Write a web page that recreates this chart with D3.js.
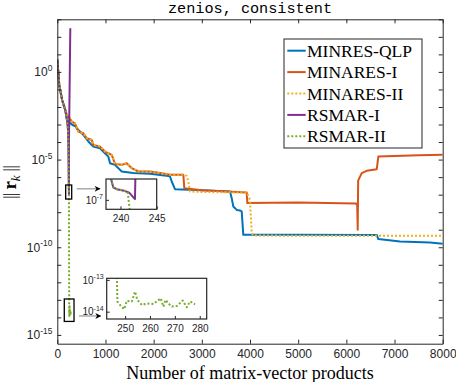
<!DOCTYPE html>
<html><head><meta charset="utf-8">
<script src="https://cdn.jsdelivr.net/npm/d3@7"></script>
<style>body{margin:0;background:#fff} svg{display:block}</style>
</head><body>
<svg id="chart" width="456" height="382"></svg>
<script>
// ---------------- data (x = matrix-vector products, y = log10 ||r_k||) ----------------
const titleText = "zenios, consistent";
const xLabelText = "Number of matrix-vector products";
const xTicks = [0,1000,2000,3000,4000,5000,6000,7000,8000];
const yTickExps = [-15,-14,-13,-12,-11,-10,-9,-8,-7,-6,-5,-4,-3,-2,-1,0,1,2,3];
const yLabelExps = [0,-5,-10,-15];
const seriesNames = ["MINRES-QLP","MINARES-I","MINARES-II","RSMAR-I","RSMAR-II"];
const seriesColors = ["#0072BD","#D95319","#EDB120","#7E2F8E","#77AC30"];
const seriesDotted = [false,false,true,false,true];

const qlpIter = [0,40,100,165,200,300,374,402,540,644,747,886,990,1059,1094,1198,1337,1578,1924,2305,2340,2375,2443,3000,3585,3620,3654,3724,3793,3828,3861,5000,6631,6664,7114,7737,8000];
const qlpLog  = [0.72,-0.74,-1.6,-2.17,-2.74,-3.0,-3.1,-3.21,-3.59,-3.97,-4.26,-4.35,-4.64,-4.83,-5.21,-5.30,-5.68,-5.77,-5.81,-5.93,-5.97,-6.25,-6.69,-6.75,-6.82,-7.2,-7.68,-7.87,-7.9,-7.96,-9.29,-9.29,-9.3,-9.53,-9.67,-9.73,-9.80];

const mar1Iter = [0,40,100,165,200,250,299,367,436,540,610,714,747,886,990,1059,1129,1198,1337,1441,1545,1682,1924,2132,2340,2616,2637,3000,3932,3945,5000,6200,6225,6236,6245,6319,6423,6631,6664,7500,8000];
const mar1Log  = [0.72,-0.74,-1.6,-2.17,-2.45,-2.62,-2.83,-2.93,-3.40,-3.50,-3.78,-3.88,-4.16,-4.26,-4.54,-4.64,-4.73,-5.25,-5.30,-5.21,-5.49,-5.68,-5.68,-5.77,-5.87,-5.87,-6.63,-6.75,-6.88,-7.48,-7.45,-7.5,-7.6,-9.0,-6.2,-5.77,-5.64,-5.55,-4.83,-4.76,-4.73];

const mar2Iter = [0,40,100,165,200,250,299,367,436,540,610,714,747,886,990,1059,1129,1198,1337,1441,1545,1682,1924,2132,2340,2616,2686,2720,2755,3000,3932,4000,4036,4069,5000,8000];
const mar2Log  = [0.72,-0.74,-1.6,-2.17,-2.45,-2.62,-2.83,-2.93,-3.40,-3.50,-3.78,-3.88,-4.16,-4.26,-4.54,-4.64,-4.73,-5.25,-5.30,-5.21,-5.49,-5.68,-5.68,-5.77,-5.87,-5.87,-5.93,-6.25,-6.82,-6.85,-6.88,-7.3,-9.19,-9.32,-9.35,-9.35];

const rs1Iter = [0,40,100,165,200,222,230,236,238.7,239,239.5,240.5,241.2,242.0,242.3,270];
const rs1Log  = [0.72,-0.74,-1.6,-2.17,-2.74,-3.3,-4.5,-6.0,-6.45,-6.67,-6.72,-6.76,-6.81,-6.98,-4.0,2.49];

const rs2Iter = [0,40,100,165,200,222,230,236,238.7,239,239.5,240.5,241.0,241.3,246.7,246.9,248.3,249.6,250.7,252.7,254.0,254.9,256.7,258.7,261.4,264.3,265.4,266.3,267.4,268.8,270.8,273.2,274.8,276.1,278.1];
const rs2Log  = [0.72,-0.74,-1.6,-2.17,-2.74,-3.3,-4.5,-6.0,-6.45,-6.67,-6.72,-6.76,-6.8,-7.3,-12.98,-13.68,-13.82,-13.92,-13.66,-13.68,-13.37,-13.63,-13.79,-13.74,-13.76,-13.58,-13.84,-13.63,-13.74,-13.84,-13.82,-13.65,-13.86,-13.68,-13.77];

// inset windows (data units)
const inset1XDomain = [238,245];
const inset1YExpDomain = [-7.25,-6.45];
const inset1XTicks = [240,245];
const inset1YTickExps = [-7];
const inset2XDomain = [242.6,282.8];
const inset2YExpDomain = [-14.23,-12.95];
const inset2XTicks = [250,260,270,280];
const inset2YTickExps = [-13,-14];
// marker boxes on main plot (iteration span)
const box1IterSpan = [174,299];
const box2IterSpan = [145,347];
const arrow1Exp = -6.67;
const arrow2Exp = -13.92;

// ---------------- drawing ----------------
const iters = [qlpIter,mar1Iter,mar2Iter,rs1Iter,rs2Iter];
const logs = [qlpLog,mar1Log,mar2Log,rs1Log,rs2Log];
const series = seriesNames.map((n,i)=>({name:n,color:seriesColors[i],dotted:seriesDotted[i],
  pts: iters[i].map((x,j)=>({x:x,y:Math.pow(10,logs[i][j])}))}));

const svg = d3.select("#chart");
const P = {l:57.3, r:442.7, t:19.3, b:343.7};
const axisCol = "#262626";
const x = d3.scaleLinear().domain([0,8000]).range([P.l,P.r]);
const y = d3.scaleLog().domain([Math.pow(10,-15.5),1e3]).range([P.b,P.t]);

svg.append("rect").attr("x",0).attr("y",0).attr("width",456).attr("height",382).attr("fill","#fff");

const defs = svg.append("defs");
defs.append("clipPath").attr("id","mainclip").append("rect")
  .attr("x",P.l).attr("y",P.t).attr("width",P.r-P.l).attr("height",P.b-P.t);

function drawSeries(g, sx, sy, sw){
  const line = d3.line().x(d=>sx(d.x)).y(d=>sy(d.y));
  series.forEach(s=>{
    g.append("path").attr("d",line(s.pts)).attr("fill","none")
      .attr("stroke",s.color).attr("stroke-width",sw)
      .attr("stroke-dasharray",s.dotted?"2,2":null)
      .attr("stroke-linejoin","round");
  });
}

const gLines = svg.append("g").attr("clip-path","url(#mainclip)");
drawSeries(gLines, x, y, 2);

// axes
const fsTick = 12;
const xb = d3.axisBottom(x).tickValues(xTicks).tickSizeInner(-4).tickSizeOuter(0).tickPadding(6).tickFormat(d3.format("d"));
const gxb = svg.append("g").attr("transform",`translate(0,${P.b})`).call(xb);
const xt = d3.axisTop(x).tickValues(xTicks).tickSizeInner(-4).tickSizeOuter(0).tickFormat("");
const gxt = svg.append("g").attr("transform",`translate(0,${P.t})`).call(xt);
const yTickVals = yTickExps.map(e=>Math.pow(10,e));
const yl = d3.axisLeft(y).tickValues(yTickVals).tickSizeInner(-4).tickSizeOuter(0).tickFormat("");
const gyl = svg.append("g").attr("transform",`translate(${P.l},0)`).call(yl);
const yr = d3.axisRight(y).tickValues(yTickVals).tickSizeInner(-4).tickSizeOuter(0).tickFormat("");
const gyr = svg.append("g").attr("transform",`translate(${P.r},0)`).call(yr);
[gxb,gxt,gyl,gyr].forEach(g=>{
  g.selectAll("path.domain").attr("stroke",axisCol).attr("stroke-width",1);
  g.selectAll(".tick line").attr("stroke",axisCol).attr("stroke-width",1);
  g.selectAll("text").attr("fill",axisCol).attr("font-family","'Liberation Sans',Arial,sans-serif").attr("font-size",fsTick);
});

function powLabel(g, px, py, exp, fs, anchor){
  const t = g.append("text").attr("x",px).attr("y",py).attr("text-anchor",anchor||"end")
    .attr("font-family","'Liberation Sans',Arial,sans-serif").attr("font-size",fs).attr("fill",axisCol);
  t.append("tspan").text("10");
  t.append("tspan").attr("dy",-fs*0.45).attr("font-size",fs*0.7).text(String(exp));
  return t;
}
const gYLab = svg.append("g");
yLabelExps.forEach(e=>powLabel(gYLab, P.l-5, y(Math.pow(10,e))+fsTick*0.38, e, fsTick));

// title
svg.append("text").attr("x",(P.l+P.r)/2).attr("y",12.5).attr("text-anchor","middle")
  .attr("font-family","'Liberation Mono','DejaVu Sans Mono',monospace").attr("font-size",15.2)
  .attr("fill","#000").text(titleText);

// x label
svg.append("text").attr("x",(P.l+P.r)/2).attr("y",378.5).attr("text-anchor","middle")
  .attr("font-family","'Liberation Serif','Times New Roman',serif").attr("font-size",18)
  .attr("fill","#000").text(xLabelText);

// y label ||r_k||
const yLab = svg.append("text").attr("transform",`translate(16,182.5) rotate(-90)`)
  .attr("text-anchor","middle").attr("font-family","'Liberation Serif','Times New Roman',serif")
  .attr("font-size",19).attr("fill","#000");
yLab.append("tspan").attr("letter-spacing","-1").text("|| ");
yLab.append("tspan").attr("font-weight","bold").text("r");
yLab.append("tspan").attr("font-style","italic").attr("font-size",13).attr("dy",4).text("k");
yLab.append("tspan").attr("dy",-4).attr("letter-spacing","-1").text(" ||");

// marker boxes and arrows
function markerBox(span, expDom){
  svg.append("rect").attr("x",x(span[0])).attr("y",y(Math.pow(10,expDom[1])))
    .attr("width",x(span[1])-x(span[0])).attr("height",y(Math.pow(10,expDom[0]))-y(Math.pow(10,expDom[1])))
    .attr("fill","none").attr("stroke","#000").attr("stroke-width",1.3);
}
markerBox(box1IterSpan, inset1YExpDomain);
markerBox(box2IterSpan, inset2YExpDomain);

defs.append("marker").attr("id","ah").attr("viewBox","0 0 10 10").attr("refX",9).attr("refY",5)
  .attr("markerWidth",8).attr("markerHeight",6).attr("markerUnits","userSpaceOnUse").attr("orient","auto")
  .append("path").attr("d","M0,0 L10,5 L0,10 L3,5 Z").attr("fill","#000");

// insets
function inset(box, xDom, yExpDom, xTickVals, yTickExpVals, id, arrowExp){
  const ix = d3.scaleLinear().domain(xDom).range([box.x0,box.x1]);
  const iy = d3.scaleLog().domain([Math.pow(10,yExpDom[0]),Math.pow(10,yExpDom[1])]).range([box.y1,box.y0]);
  const g = svg.append("g");
  const ay = y(Math.pow(10,arrowExp));
  g.append("line").attr("x1",box.mx+5).attr("x2",box.x0-6).attr("y1",ay).attr("y2",ay)
    .attr("stroke","#808080").attr("stroke-width",1).attr("marker-end","url(#ah)");
  g.append("rect").attr("x",box.x0).attr("y",box.y0).attr("width",box.x1-box.x0).attr("height",box.y1-box.y0).attr("fill","#fff");
  defs.append("clipPath").attr("id",id).append("rect").attr("x",box.x0).attr("y",box.y0)
    .attr("width",box.x1-box.x0).attr("height",box.y1-box.y0);
  const gl = g.append("g").attr("clip-path",`url(#${id})`);
  drawSeries(gl, ix, iy, 2);
  const fs = 10;
  const ax = d3.axisBottom(ix).tickValues(xTickVals).tickSizeInner(-3).tickSizeOuter(0).tickPadding(6).tickFormat(d3.format("d"));
  const gax = g.append("g").attr("transform",`translate(0,${box.y1})`).call(ax);
  const ayAxis = d3.axisLeft(iy).tickValues(yTickExpVals.map(e=>Math.pow(10,e))).tickSizeInner(-3).tickSizeOuter(0).tickFormat("");
  const gay = g.append("g").attr("transform",`translate(${box.x0},0)`).call(ayAxis);
  [gax,gay].forEach(a=>{
    a.selectAll("path.domain").remove();
    a.selectAll(".tick line").attr("stroke",axisCol);
    a.selectAll("text").attr("fill",axisCol).attr("font-family","'Liberation Sans',Arial,sans-serif").attr("font-size",fs);
  });
  yTickExpVals.forEach(e=>powLabel(g, box.x0-3, iy(Math.pow(10,e))+fs*0.38, e, fs));
  g.append("rect").attr("x",box.x0).attr("y",box.y0).attr("width",box.x1-box.x0).attr("height",box.y1-box.y0)
    .attr("fill","none").attr("stroke","#262626").attr("stroke-width",1.2);
}
inset({x0:106,x1:156.7,y0:179,y1:209.3,mx:x(box1IterSpan[1])}, inset1XDomain, inset1YExpDomain, inset1XTicks, inset1YTickExps, "c1", arrow1Exp);
inset({x0:106.7,x1:206.7,y0:278.3,y1:319,mx:x(box2IterSpan[1])}, inset2XDomain, inset2YExpDomain, inset2XTicks, inset2YTickExps, "c2", arrow2Exp);

// legend
const L = {x0:284, y0:39, x1:422, y1:148};
const gLeg = svg.append("g");
gLeg.append("rect").attr("x",L.x0).attr("y",L.y0).attr("width",L.x1-L.x0).attr("height",L.y1-L.y0)
  .attr("fill","#fff").attr("stroke","#262626").attr("stroke-width",1);
series.forEach((s,i)=>{
  const cy = 50.7 + i*21.4;
  gLeg.append("line").attr("x1",287.3).attr("x2",305.7).attr("y1",cy).attr("y2",cy)
    .attr("stroke",s.color).attr("stroke-width",2).attr("stroke-dasharray",s.dotted?"2,2":null);
  gLeg.append("text").attr("x",307).attr("y",cy+6).attr("font-family","'Liberation Serif','Times New Roman',serif")
    .attr("font-size",17.5).attr("fill","#000").text(s.name);
});
</script>
</body></html>
